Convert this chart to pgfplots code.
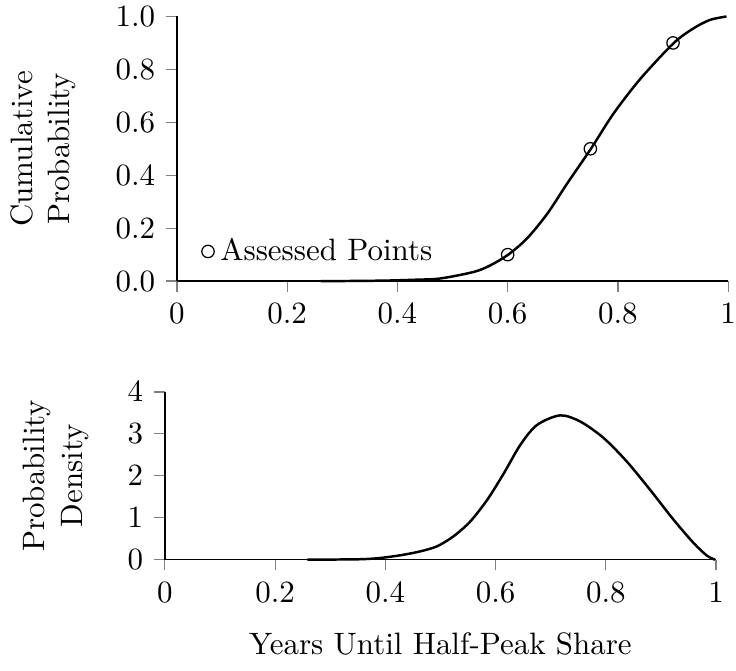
\documentclass[border={0pt 1.5pt -3.3pt -1.45pt}]{standalone}
\usepackage{pgfplots}
\pgfplotsset{compat=1.18}
\begin{document}
\begin{tikzpicture}
\pgfplotsset{
  common/.style={
    scale only axis,
    width=178.1pt,
    xmin=0, xmax=1,
    axis x line*=bottom,
    axis y line*=left,
    tick align=outside,
    major tick length=3.5pt,
    tick style={gray, line width=0.4pt},
    axis line style={black, line width=0.5pt},
    xtick={0,0.2,0.4,0.6,0.8,1},
    xticklabels={0,0.2,0.4,0.6,0.8,1},
    ylabel style={align=center, anchor=south},
    clip=false,
  }
}
\begin{axis}[common,
  at={(0pt,0pt)}, anchor=origin,
  height=85.5pt,
  ymin=0, ymax=1,
  ytick={0,0.2,0.4,0.6,0.8,1},
  yticklabels={0.0,0.2,0.4,0.6,0.8,1.0},
  ylabel={Cumulative\\Probability},
  ylabel style={at={(axis description cs:-0.164,0.5)}},
  legend style={at={(axis cs:0.044,0.112)}, anchor=west, draw=none, fill=none, inner sep=0pt,
    legend cell align=left},
  legend image code/.code={\draw[mark=o, mark size=2pt, black] plot coordinates {(0.1cm,0cm)};},
]
\addplot[black, line width=0.8pt, smooth, tension=0.5, forget plot] coordinates {
(0.261,0) (0.32,0.0005) (0.38,0.002) (0.43,0.005) (0.478,0.010)
(0.539,0.035) (0.569,0.060) (0.601,0.10) (0.635,0.161) (0.672,0.255) (0.708,0.369)
(0.751,0.50) (0.792,0.633) (0.841,0.765) (0.901,0.899) (0.937,0.955) (0.967,0.987) (0.997,1.0)
};
\addplot[only marks, mark=o, mark size=2pt, black] coordinates {
(0.6,0.1) (0.75,0.5) (0.9,0.9)
};
\addlegendentry{Assessed Points}
\end{axis}
\begin{axis}[common,
  at={(-3.9pt,-90.0pt)}, anchor=origin,
  height=54.2pt,
  ymin=0, ymax=4,
  ytick={0,1,2,3,4},
  ylabel={Probability\\Density},
  ylabel style={at={(axis description cs:-0.119,0.5)}},
  xlabel={Years Until Half-Peak Share},
  xlabel style={at={(axis description cs:0.5,-0.371)}, anchor=north},
]
\addplot[black, line width=0.8pt, smooth, tension=0.5] coordinates {
(0.2585,0) (0.32,0.004) (0.36,0.012) (0.391,0.04) (0.43,0.11) (0.464,0.20) (0.494,0.32)
(0.524,0.56) (0.554,0.91) (0.585,1.43) (0.615,2.06) (0.645,2.74) (0.675,3.21) (0.717,3.44)
(0.754,3.29) (0.796,2.90) (0.838,2.34) (0.880,1.67) (0.923,0.95) (0.959,0.40)
(0.983,0.10) (0.998,0)
};
\end{axis}
\end{tikzpicture}
\end{document}
